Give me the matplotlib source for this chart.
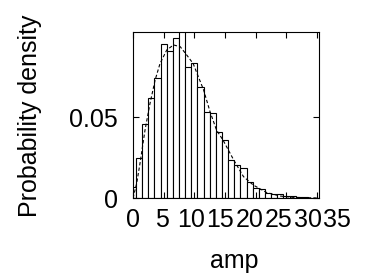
import matplotlib
matplotlib.use("Agg")
import matplotlib.pyplot as plt
import numpy as np

plt.rcParams['font.family'] = ['Liberation Sans', 'DejaVu Sans']

# histogram: bin centres (width 1) and probability density
bin_centres = np.arange(0, 31)
density = [0.007, 0.0245, 0.0457, 0.0616, 0.074, 0.095, 0.0905, 0.0988, 0.106,
           0.0806, 0.0832, 0.0688, 0.0533, 0.0523, 0.041, 0.0358, 0.0235, 0.0204,
           0.0183, 0.0101, 0.0062, 0.0054, 0.0033, 0.0025, 0.0023, 0.0014, 0.001,
           0.0007, 0.0004, 0.0002, 0.0003]

# fitted pdf (dashed)
fit_x = [0, 0.6, 1.14, 1.96, 2.77, 3.6, 4.4, 5.5, 6.6, 7.7, 8.75, 9.8, 11.5,
         12.55, 13.6, 14.7, 16.4, 18, 19.6, 21.8, 24, 26.1, 30]
fit_y = [0, 0.009, 0.0214, 0.042, 0.0584, 0.0728, 0.083, 0.0914, 0.0945, 0.0934,
         0.0883, 0.083, 0.0667, 0.0533, 0.042, 0.0355, 0.0235, 0.0132, 0.008,
         0.0033, 0.0012, 0.0004, 0.0]

xtick_vals = [0, 5, 10, 15, 20, 25, 30]
xtick_labels = ['0', '5', '10', '15', '20', '25', '30', '35']

W, H = 369, 275
fig = plt.figure(figsize=(W / 100, H / 100), dpi=100)
ax = fig.add_axes([133 / W, 77 / H, 186 / W, 166 / H])

ax.bar(bin_centres, density, width=1.0, color='white', edgecolor='black', linewidth=0.8)
ax.plot(fit_x, fit_y, color='black', linewidth=0.8, linestyle=(0, (3, 2)))

ax.set_xlim(0, 30.3)
ax.set_ylim(0, 0.1025)
ax.set_xticks(xtick_vals)
ax.set_yticks([0, 0.05])
ax.set_yticklabels(['0', '0.05'])
ax.tick_params(direction='in', top=True, right=True, length=4, width=0.8,
               labelbottom=False, labelsize=18, pad=11)
for s in ax.spines.values():
    s.set_linewidth(0.8)

# the scanned tick labels sit a bit tighter than the tick marks
for i, lab in enumerate(xtick_labels):
    ax.text(i * 5 * 0.95, -0.1325, lab, transform=ax.get_xaxis_transform(),
            ha='center', va='center', fontsize=18, clip_on=False)

fig.text(37 / W, 1 - 116 / H, 'Probability density', rotation=90, fontsize=18,
         ha='center', va='baseline', rotation_mode='anchor')
fig.text(234 / W, 1 - 268 / H, 'amp', fontsize=18, ha='center', va='baseline')

fig.savefig('out.png', dpi=100, facecolor='white')
